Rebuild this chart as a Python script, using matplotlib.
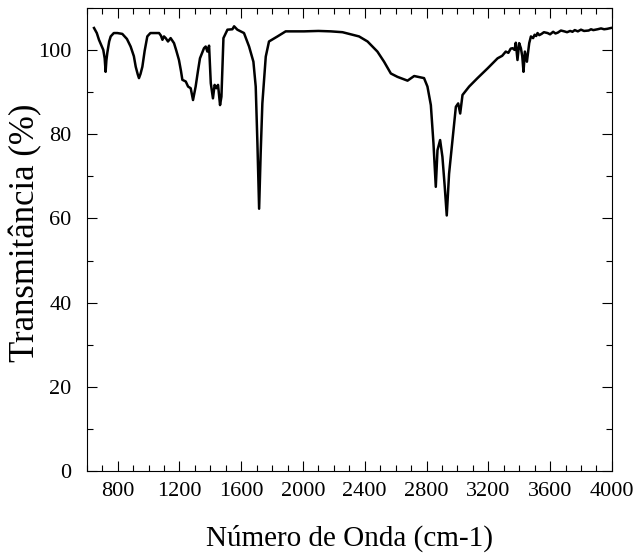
import numpy as np
import matplotlib.pyplot as plt
from matplotlib.ticker import MultipleLocator

# espectro FTIR (número de onda em cm-1, transmitância em %)
wavenumber = [
    647, 665, 679, 695, 707, 716, 722, 727, 733, 745, 755, 775, 798, 830, 860,
    884, 905, 917, 930, 938, 948, 960, 975, 992, 1012, 1035, 1068, 1080, 1090,
    1100, 1111, 1126, 1143, 1165, 1180, 1197, 1210, 1219, 1241, 1256, 1273,
    1288, 1305, 1320, 1333, 1359, 1370, 1381, 1392, 1403, 1417, 1428, 1439,
    1450, 1463, 1472, 1485, 1511, 1543, 1554, 1575, 1618, 1651, 1679, 1694,
    1705, 1716, 1726, 1737, 1759, 1780, 1835, 1888, 1975, 2007, 2100, 2180,
    2256, 2363, 2418, 2482, 2525, 2569, 2612, 2677, 2720, 2784, 2806, 2828,
    2845, 2860, 2871, 2888, 2903, 2918, 2931, 2946, 2968, 2990, 3005, 3018,
    3033, 3076, 3130, 3195, 3260, 3290, 3313, 3330, 3345, 3357, 3370, 3378,
    3389, 3400, 3411, 3420, 3428, 3437, 3450, 3465, 3476, 3490, 3500, 3510,
    3519, 3530, 3545, 3560, 3584, 3600, 3620, 3635, 3650, 3670, 3692, 3710,
    3730, 3745, 3760, 3780, 3800, 3820, 3850, 3865, 3880, 3908, 3930, 3950,
    3970, 3994,
]
transmittance = [
    105.2, 104.0, 102.4, 101.0, 100.0, 98.0, 94.8, 97.5, 99.3, 102.0, 103.2,
    104.0, 104.0, 103.8, 102.6, 100.8, 98.5, 96.0, 94.2, 93.3, 94.3, 96.0,
    99.8, 103.2, 104.0, 104.0, 104.0, 103.4, 102.4, 103.2, 102.8, 102.0,
    102.8, 101.6, 99.8, 97.6, 95.0, 92.9, 92.5, 91.3, 90.9, 88.1, 91.3, 95.0,
    98.0, 100.4, 100.8, 99.6, 101.0, 92.1, 88.5, 91.7, 90.9, 91.7, 86.9, 88.9,
    102.8, 104.8, 104.9, 105.6, 104.8, 104.0, 100.8, 97.2, 91.3, 77.8, 62.3,
    75.4, 87.3, 98.4, 102.0, 103.2, 104.4, 104.4, 104.4, 104.5, 104.4, 104.2,
    103.2, 102.0, 99.6, 97.2, 94.4, 93.6, 92.7, 93.8, 93.3, 91.3, 86.9, 77.8,
    67.5, 76.2, 78.6, 74.6, 67.5, 60.7, 70.6, 78.6, 86.5, 87.3, 84.9, 89.3,
    91.3, 93.3, 95.6, 98.0, 98.6, 99.6, 99.3, 100.3, 100.4, 100.0, 101.7,
    97.6, 101.6, 100.4, 98.5, 94.8, 99.6, 97.2, 101.6, 103.2, 102.8, 103.6,
    103.3, 104.0, 103.5, 103.8, 104.2, 104.0, 103.7, 104.3, 103.9, 104.1,
    104.6, 104.4, 104.2, 104.5, 104.3, 104.7, 104.4, 104.8, 104.5, 104.6,
    104.9, 104.7, 104.9, 105.1, 104.9, 105.0, 105.2,
]

plt.rcParams['font.family'] = ['Liberation Serif', 'DejaVu Serif']

fig = plt.figure(figsize=(6.38, 5.55), dpi=100)
ax = fig.add_axes([0.136, 0.151, 0.823, 0.835])

ax.plot(wavenumber, transmittance, color='black', linewidth=1.8)

ax.set_xlim(600, 4000)
ax.set_ylim(0, 110)
ax.xaxis.set_minor_locator(MultipleLocator(100))
ax.yaxis.set_major_locator(MultipleLocator(20))
ax.yaxis.set_minor_locator(MultipleLocator(10))
ax.set_xticks(np.arange(800, 4001, 400))

ax.tick_params(which='both', direction='in', top=True, right=True,
               labelsize=16, width=0.8)
ax.tick_params(axis='x', which='major', length=7, pad=8)
ax.tick_params(axis='y', which='major', length=7, pad=11)
ax.tick_params(which='minor', length=4)
for s in ax.spines.values():
    s.set_linewidth(0.8)

ax.set_xlabel('Número de Onda (cm-1)', fontsize=21, labelpad=17)
ax.set_ylabel('Transmitância (%)', fontsize=25, labelpad=4)
ax.yaxis.set_label_coords(-0.085, 0.515)

fig.savefig('out.png', dpi=100)
